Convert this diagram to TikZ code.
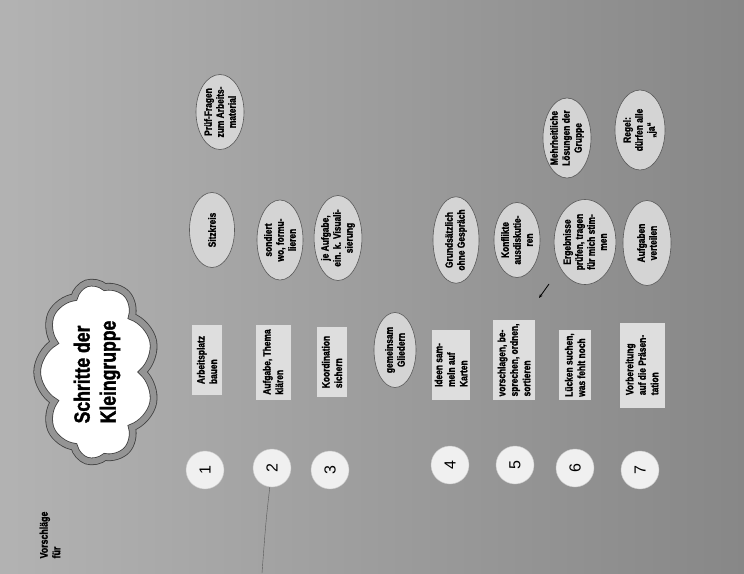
\documentclass[tikz,border=0pt]{standalone}
\usepackage{fontspec}
\setmainfont{Liberation Sans}
\newfontfamily\markerfont[FakeStretch=0.8, FakeBold=1.5, UprightFont={* Bold}]{Liberation Sans}
\usetikzlibrary{arrows.meta, positioning, calc, shapes.geometric, shapes.symbols}
\tikzset{
	notetext/.style={rotate=90, align=left, inner sep=1pt, font=\markerfont\fontsize{11}{12.5}\selectfont},
	titlecloud/.style={cloud, cloud puffs=9, cloud puff arc=120, aspect=1.5, fill=white, draw=black!75, double=black!42, double distance=6pt, line width=0.8pt, rotate=90, align=left, inner sep=0pt, minimum width=180pt, minimum height=118pt, font=\markerfont\fontsize{22}{26}\selectfont},
	stepnum/.style={circle, fill=black!6, draw=black!22, minimum size=38pt, inner sep=0pt, rotate=90, font=\fontsize{16}{16}\selectfont},
	stepbox/.style={rectangle, fill=black!13, minimum height=32pt, inner sep=2.5pt, rotate=90, align=left, font=\markerfont\fontsize{10.5}{12.5}\selectfont},
	hintoval/.style={ellipse, fill=black!17, draw=black!65, line width=0.6pt, inner sep=0pt, minimum width=80pt, minimum height=46pt, rotate=90, align=center, font=\markerfont\fontsize{10.5}{12}\selectfont},
}
\begin{document}
\begin{tikzpicture}[x=1pt, y=-1pt]
	\useasboundingbox (0,0) rectangle (744,573);
	\shade[left color=black!30, right color=black!47] (0,0) rectangle (744,573);
	% title
	\node[notetext] (intro) at (50,535) {Vorschläge\\für};
	\node[titlecloud] (title) at (97,372) {Schritte der\\Kleingruppe};
	% step numbers
	\node[stepnum] (c1) at (205,470) {1};
	\node[stepnum] (c2) at (272,468) {2};
	\node[stepnum] (c3) at (330,470) {3};
	\node[stepnum] (c4) at (450,465) {4};
	\node[stepnum] (c5) at (515,465) {5};
	\node[stepnum] (c6) at (575,468) {6};
	\node[stepnum] (c7) at (640,470) {7};
	% steps
	\node[stepbox, minimum width=70pt, minimum height=30pt] (s1) at (207,360) {Arbeitsplatz\\bauen};
	\node[stepbox, minimum width=75pt, minimum height=35pt] (s2) at (273,362) {Aufgabe, Thema\\klären};
	\node[stepbox, minimum width=70pt, minimum height=30pt] (s3) at (332,362) {Koordination\\sichern};
	\node[stepbox, minimum width=70pt, minimum height=38pt] (s4) at (451,365) {Ideen sam-\\meln auf\\Karten};
	\node[stepbox, minimum width=80pt, minimum height=42pt] (s5) at (514,360) {vorschlagen, be-\\sprechen, ordnen,\\sortieren};
	\node[stepbox, minimum width=70pt, minimum height=32pt] (s6) at (575,365) {Lücken suchen,\\was fehlt noch};
	\node[stepbox, minimum width=85pt, minimum height=45pt] (s7) at (642,365) {Vorbereitung\\auf die Präsen-\\tation};
	% hints
	\node[hintoval, minimum width=75pt, minimum height=45pt] (h1a) at (212,230) {Sitzkreis};
	\node[hintoval, minimum width=75pt, minimum height=48pt] (h1b) at (220,112) {Prüf-Fragen\\zum Arbeits-\\material};
	\node[hintoval] (h2) at (280,240) {sondiert\\wo, formu-\\lieren};
	\node[hintoval, minimum width=85pt] (h3) at (338,238) {je Aufgabe,\\ein. k. Visuali-\\sierung};
	\node[hintoval, minimum width=75pt, minimum height=42pt] (h3b) at (395,350) {gemeinsam\\Gliedern};
	\node[hintoval] (h4) at (456,240) {Grundsätzlich\\ohne Gespräch};
	\node[hintoval, minimum width=75pt] (h5a) at (517,240) {Konflikte\\ausdiskutie-\\ren};
	\node[hintoval, minimum height=48pt] (h5b) at (567,138) {Mehrheitliche\\Lösungen der\\Gruppe};
	\node[hintoval, minimum width=85pt, minimum height=50pt] (h6) at (585,242) {Ergebnisse\\prüfen, tragen\\für mich stim-\\men};
	\node[hintoval, minimum width=85pt, minimum height=48pt] (h7a) at (647,243) {Aufgaben\\verteilen};
	\node[hintoval, minimum height=50pt] (h7b) at (640,130) {Regel:\\dürfen alle\\„ja“};
	% marks
	\draw[-{Stealth[length=4pt]}, thick] ($(h5a.center)+(32,44)$) -- ($(h5a.center)+(22,58)$);
	\coordinate (cut) at (262,573);
	\draw[black!65, thin] (c2) .. controls (266,520) .. (cut);
\end{tikzpicture}
\end{document}
